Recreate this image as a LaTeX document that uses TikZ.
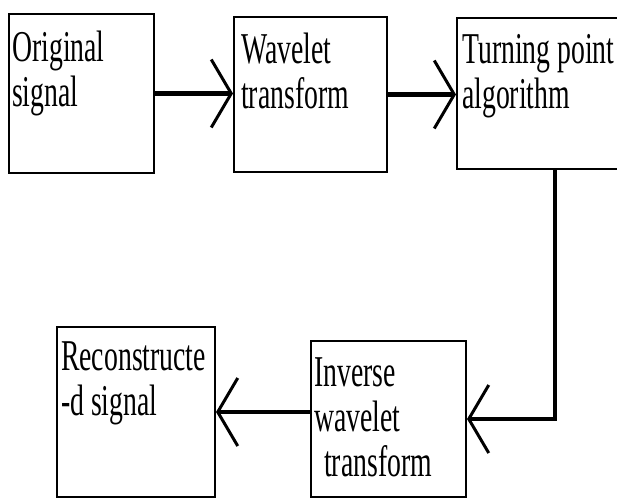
\documentclass[tikz,border=0pt]{standalone}
\usepackage{fontspec}
\newfontfamily\boxfont{Liberation Serif}[FakeStretch=0.63]
\usetikzlibrary{arrows.meta,positioning}
\tikzset{
	block/.style 2 args={
			draw, line width=2pt, inner sep=0pt,
			minimum width=#1, minimum height=#2
		},
	caption/.style={
			anchor=north west, inner sep=0pt, align=left,
			font=\boxfont\fontsize{44}{45}\selectfont
		},
	flow/.style={
			line width=4.5pt,
			-{Straight Barb[length=20pt, width=68pt, line width=3pt]}
		}
}

\begin{document}
\begin{tikzpicture}[x=1pt, y=-1pt]
		\useasboundingbox (0, 0) rectangle (617, 498);

		\node[block={145pt}{159pt}] (orig) at (81.5, 93.5) {};
		\node[block={153pt}{155pt}] (wave) at (310.5, 94.5) {};
		\node[block={163pt}{151pt}] (turn) at (538.5, 93.5) {};
		\node[block={155pt}{156pt}] (inv) at (388.5, 419) {};
		\node[block={158pt}{170pt}] (recon) at (136, 412) {};

		\node[caption, below right=18pt and 4pt of orig.north west] (origtext) {Original\\signal};
		\node[caption, below right=17pt and 8pt of wave.north west] (wavetext) {Wavelet\\transform};
		\node[caption, below right=17pt and 6pt of turn.north west] (turntext) {Turning point\\algorithm};
		\node[caption, below right=17pt and 4pt of inv.north west] (invtext) {Inverse\\wavelet\\\hspace*{10pt}transform};
		\node[caption, below right=15pt and 5pt of recon.north west] (recontext) {Reconstructe\\-d signal};

		\coordinate (drop) at (555, 0);

		\draw[flow] (orig.east) to (orig.east -| wave.west);
		\draw[flow] (wave.east) to (wave.east -| turn.west);
		\draw[flow, line width=3.5pt] (turn.south -| drop) |- (inv.east);
		\draw[flow] (inv.west |- recon.east) to (recon.east);
	\end{tikzpicture}
\end{document}
